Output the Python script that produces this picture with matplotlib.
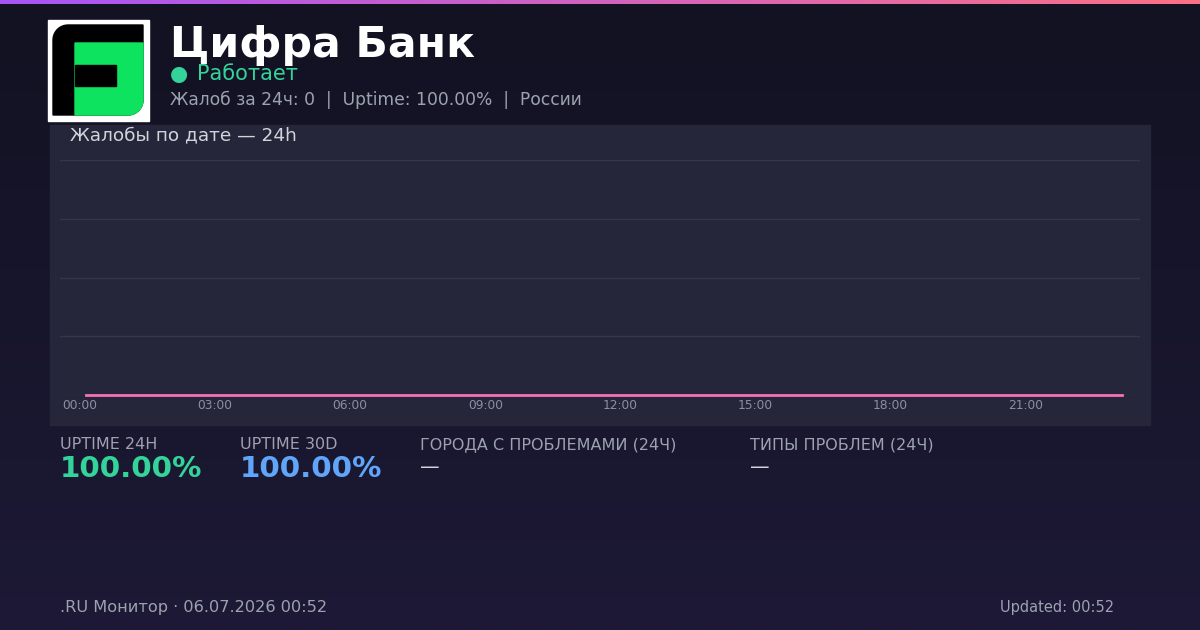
import matplotlib
matplotlib.use("Agg")
import matplotlib.pyplot as plt
import matplotlib.transforms as mtransforms
from matplotlib.patches import Rectangle, Polygon
from matplotlib.colors import LinearSegmentedColormap
import numpy as np

plt.rcParams["font.family"] = ["DejaVu Sans"]

W, H = 1200, 630

# --- données ---
hours = [0, 1, 2, 3, 4, 5, 6, 7, 8, 9, 10, 11,
         12, 13, 14, 15, 16, 17, 18, 19, 20, 21, 22, 23]
complaints = [0, 0, 0, 0, 0, 0, 0, 0, 0, 0, 0, 0,
              0, 0, 0, 0, 0, 0, 0, 0, 0, 0, 0, 0]
tick_hours = [0, 3, 6, 9, 12, 15, 18, 21]
tick_labels = ["00:00", "03:00", "06:00", "09:00", "12:00", "15:00", "18:00", "21:00"]

stat_labels = ["UPTIME 24H", "UPTIME 30D", "ГОРОДА С ПРОБЛЕМАМИ (24Ч)", "ТИПЫ ПРОБЛЕМ (24Ч)"]
stat_values = ["100.00%", "100.00%", "—", "—"]


def fx(px):
    return px / W


def fy(py):
    return 1 - py / H


def rounded_rect(x0, y0, x1, y1, r, tl=False, br=False):
    """Rectangle (coordonnées pixel, y vers le bas) avec coins arrondis au choix."""
    pts = []
    if tl:
        a = np.linspace(np.pi, 1.5 * np.pi, 12)
        pts += list(zip(x0 + r + r * np.cos(a), y0 + r + r * np.sin(a)))
    else:
        pts.append((x0, y0))
    pts.append((x1, y0))
    if br:
        a = np.linspace(0, 0.5 * np.pi, 12)
        pts += list(zip(x1 - r + r * np.cos(a), y1 - r + r * np.sin(a)))
    else:
        pts.append((x1, y1))
    pts.append((x0, y1))
    return pts


fig = plt.figure(figsize=(12, 6.3), dpi=100)

# fond en dégradé
bg = fig.add_axes([0, 0, 1, 1])
bg.axis("off")
grad = np.linspace(0, 1, 256).reshape(-1, 1)
cmap_bg = LinearSegmentedColormap.from_list("bg", ["#121222", "#1d1936"])
bg.imshow(grad, aspect="auto", cmap=cmap_bg, extent=[0, W, H, 0])

# barre du haut
bar = np.linspace(0, 1, 256).reshape(1, -1)
cmap_bar = LinearSegmentedColormap.from_list("bar", ["#a855f7", "#fb7185"])
bg.imshow(bar, aspect="auto", cmap=cmap_bar, extent=[0, W, 4, 0])
bg.set_xlim(0, W)
bg.set_ylim(H, 0)

# panneau du graphique
bg.add_patch(Rectangle((50, 125), 1100, 300, color="#252639", zorder=2))

# logo
bg.add_patch(Rectangle((48, 20), 101, 101, color="white", zorder=3))
bg.add_patch(Polygon(rounded_rect(53, 25, 143, 115, 15, tl=True, br=True),
                     closed=True, color="black", zorder=4))
bg.add_patch(Polygon(rounded_rect(75, 43, 143, 115, 15, br=True),
                     closed=True, color="#0de35f", zorder=5))
bg.add_patch(Rectangle((75, 65), 41, 21, color="black", zorder=6))

# en-tête
fig.text(fx(170), fy(57), "Цифра Банк", color="white", fontsize=30.6,
         fontweight="bold", va="baseline")
fig.text(fx(170), fy(80), "●", color="#34d399", fontsize=15, va="baseline")
fig.text(fx(197), fy(80), "Работает", color="#34d399", fontsize=15, va="baseline")
fig.text(fx(170), fy(105), "Жалоб за 24ч: 0  |  Uptime: 100.00%  |  России",
         color="#9ca3af", fontsize=12.3, va="baseline")

fig.text(fx(70), fy(140), "Жалобы по дате — 24h", color="#d1d5db",
         fontsize=13.3, va="baseline")

# graphique
ax = fig.add_axes([fx(60), fy(395), fx(1080), 235 / H])
ax.set_facecolor("none")
ax.plot(hours, complaints, color="#f472b6", lw=2, clip_on=False, zorder=3)
ax.set_xlim(hours[0] - 26 / 45.04, hours[0] + 1054 / 45.04)
ax.set_ylim(0, 4)
ax.set_yticks([0, 1, 2, 3, 4])
ax.set_yticklabels([])
ax.set_xticks(tick_hours)
ax.set_xticklabels(tick_labels, color="#8b8fa3", fontsize=8.8)
ax.tick_params(axis="both", length=0, pad=3)
ax.tick_params(axis="y", left=False)
offset = mtransforms.ScaledTranslation(-6 / 100, 0, fig.dpi_scale_trans)
for lab in ax.get_xticklabels():
    lab.set_transform(lab.get_transform() + offset)
ax.grid(axis="y", color="#34364b", lw=1)
for s in ax.spines.values():
    s.set_visible(False)

# statistiques
stat_x = [60, 240, 420, 750]
stat_colors = ["#34d399", "#60a5fa", "#d1d5db", "#d1d5db"]
for x, lab, val, col in zip(stat_x, stat_labels, stat_values, stat_colors):
    fig.text(fx(x), fy(449), lab, color="#9ca3af", fontsize=11.5, va="baseline")
    if val == "—":
        fig.text(fx(x), fy(473), val, color=col, fontsize=14, va="baseline")
    else:
        fig.text(fx(x), fy(477), val, color=col, fontsize=21.2,
                 fontweight="bold", va="baseline")

# pied de page
fig.text(fx(60), fy(612), ".RU Монитор · 06.07.2026 00:52", color="#9ca3af",
         fontsize=11.6, va="baseline")
fig.text(fx(1114), fy(612), "Updated: 00:52", color="#9ca3af",
         fontsize=10.5, va="baseline", ha="right")

fig.savefig("out.png", dpi=100)
plt.close(fig)
